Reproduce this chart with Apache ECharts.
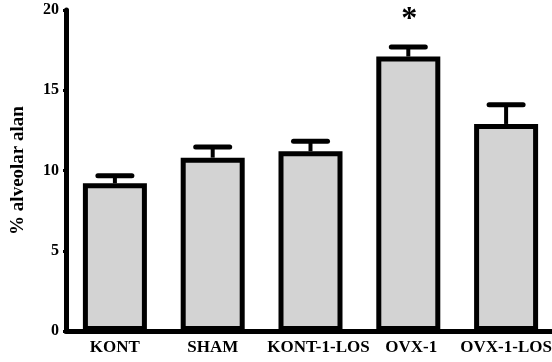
<!DOCTYPE html>
<html>
<head>
<meta charset="utf-8">
<script src="https://cdn.jsdelivr.net/npm/echarts@6/dist/echarts.min.js"></script>
<style>
  html, body { margin: 0; padding: 0; background: #ffffff; }
  #chart { width: 552px; height: 362px; }
</style>
</head>
<body>
<div id="chart"></div>
<script>
// Groups and measured alveolar area (%), mean and SEM
const categories = ['KONT', 'SHAM', 'KONT-1-LOS', 'OVX-1', 'OVX-1-LOS'];
const means = [9.2, 10.8, 11.2, 17.1, 12.9];
const sems = [0.48, 0.66, 0.62, 0.6, 1.2];
const significance = ['', '', '', '*', ''];
const yTickValues = [0, 5, 10, 15, 20];

const FONT = '"Liberation Serif", "Times New Roman", serif';

// Small horizontal nudges for the longer group names
const labelPadding = {
  'KONT-1-LOS': [0, 0, 0, 16],
  'OVX-1': [0, 0, 0, 6]
};

const chart = echarts.init(document.getElementById('chart'), null, { renderer: 'canvas' });

const errorData = categories.map((c, i) => [i, means[i], sems[i]]);
const categoryData = categories.map(c => labelPadding[c]
  ? { value: c, textStyle: { padding: labelPadding[c] } }
  : c);

chart.setOption({
  animation: false,
  backgroundColor: '#ffffff',
  grid: { left: 66, top: 10, width: 489, height: 321, containLabel: false, outerBoundsMode: 'none' },
  xAxis: {
    type: 'category',
    data: categoryData,
    axisLine: { lineStyle: { color: '#000', width: 5 } },
    axisTick: { show: true, alignWithLabel: true, length: 3, lineStyle: { color: '#000', width: 4 } },
    axisLabel: {
      color: '#000', fontFamily: FONT, fontWeight: 'bold', fontSize: 17, margin: 8,
      interval: 0, hideOverlap: false
    }
  },
  yAxis: {
    type: 'value',
    min: yTickValues[0],
    max: yTickValues[yTickValues.length - 1],
    interval: yTickValues[1] - yTickValues[0],
    name: '% alveolar alan',
    nameLocation: 'middle',
    nameRotate: 90,
    nameGap: 38,
    nameTextStyle: { color: '#000', fontFamily: FONT, fontWeight: 'bold', fontSize: 19 },
    axisLine: { show: true, lineStyle: { color: '#000', width: 5 } },
    axisTick: { show: true, length: 3, lineStyle: { color: '#000', width: 3 } },
    axisLabel: { color: '#000', fontFamily: FONT, fontWeight: 'bold', fontSize: 16, margin: 7 },
    splitLine: { show: false }
  },
  series: [
    {
      type: 'bar',
      data: means,
      barWidth: 64,
      itemStyle: { color: '#d3d3d3', borderColor: '#000', borderWidth: 5 },
      z: 2
    },
    {
      type: 'custom',
      data: errorData,
      z: 3,
      renderItem: function (params, api) {
        const x = api.value(0);
        const m = api.value(1);
        const e = api.value(2);
        const mark = significance[params.dataIndex];
        const base = api.coord([x, m]);
        const top = api.coord([x, m + e]);
        const half = 17;
        const children = [
          {
            type: 'line',
            shape: { x1: base[0], y1: base[1], x2: top[0], y2: top[1] },
            style: { stroke: '#000', lineWidth: 4 }
          },
          {
            type: 'line',
            shape: { x1: top[0] - half, y1: top[1], x2: top[0] + half, y2: top[1] },
            style: { stroke: '#000', lineWidth: 5, lineCap: 'round' }
          }
        ];
        if (mark) {
          children.push({
            type: 'text',
            style: {
              text: mark,
              x: top[0] + 1,
              y: top[1] - 27,
              align: 'center',
              verticalAlign: 'middle',
              fill: '#000',
              font: 'bold 32px ' + FONT
            }
          });
        }
        return { type: 'group', children: children };
      }
    }
  ]
});
</script>
</body>
</html>
